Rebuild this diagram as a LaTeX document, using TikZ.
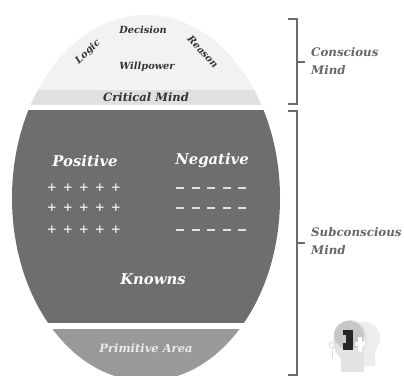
\documentclass[tikz,border=0pt]{standalone}
\usepackage{fontspec}
\setmainfont{DejaVu Serif}
\begin{document}
\begin{tikzpicture}[x=1pt,y=-1pt,
  lbl/.style={inner sep=0pt},
  dk/.style={lbl,text=black!80},
  wh/.style={lbl,text=white},
  side/.style={lbl,text=black!60,align=left,anchor=west,font=\bfseries\itshape\fontsize{11.8}{18}\selectfont},
  brk/.style={draw=black!58,line width=2.2pt},
  sym/.style={lbl,text=white!92!black,font=\bfseries\fontsize{12}{12}\selectfont}]
\useasboundingbox (0,0) rectangle (404,376);
\fill[white] (0,0) rectangle (404,376);
\begin{scope}
\clip (146,198) ellipse [x radius=134, y radius=183];
\fill[black!5] (0,0) rectangle (300,90);
\fill[black!12] (0,90) rectangle (300,105);
\fill[black!57] (0,110) rectangle (300,323);
\fill[black!40] (0,329) rectangle (300,376);
\end{scope}
\node[dk,font=\bfseries\itshape\fontsize{9.8}{11}\selectfont] (dec) at (143,30) {Decision};
\node[dk,font=\bfseries\itshape\fontsize{9.8}{11}\selectfont,rotate=43] (log) at (88,52) {Logic};
\node[dk,font=\bfseries\itshape\fontsize{9.8}{11}\selectfont,rotate=-47] (rea) at (203,52) {Reason};
\node[dk,font=\bfseries\itshape\fontsize{9.8}{11}\selectfont] (wil) at (147,67) {Willpower};
\node[dk,font=\bfseries\itshape\fontsize{11.5}{13}\selectfont] (cri) at (146,97.5) {Critical Mind};
\node[wh,font=\bfseries\itshape\fontsize{14.8}{17}\selectfont] (pos) at (85,161) {Positive};
\node[wh,font=\bfseries\itshape\fontsize{14.8}{17}\selectfont] (neg) at (212,161) {Negative};
\node[wh,font=\bfseries\itshape\fontsize{14.8}{17}\selectfont] (kno) at (153,279) {Knowns};
\node[wh,font=\bfseries\itshape\fontsize{11.5}{13}\selectfont,text=white!92!black] (pri) at (146,348) {Primitive Area};
\foreach \y in {188,208,230}{
  \foreach \x in {52,68,84,100,116}{\node[sym] at (\x,\y) {+};}
  \foreach \x in {180,196,211,227,242}{\fill[white!88!black] (\x-3.8,\y-1.1) rectangle (\x+3.8,\y+1.1);}
}
\coordinate (c1) at (288,19);
\coordinate (c2) at (297,19);
\coordinate (c3) at (297,104);
\coordinate (c4) at (288,104);
\coordinate (c5) at (297,62);
\coordinate (c6) at (305,62);
\draw[brk] (c1) -- (c2) -- (c3) -- (c4) (c5) -- (c6);
\coordinate (d1) at (288,111);
\coordinate (d2) at (297,111);
\coordinate (d3) at (297,375);
\coordinate (d4) at (288,375);
\coordinate (d5) at (297,243);
\coordinate (d6) at (305,243);
\draw[brk] (d1) -- (d2) -- (d3) -- (d4) (d5) -- (d6);
\node[side] (con) at (311,61.5) {Conscious\\Mind};
\node[side] (sub) at (311,241) {Subconscious\\Mind};
% head icon
\fill[black!7] (354,366) -- (354,356) .. controls (345,350) and (348,322) .. (364,322) .. controls (378,322) and (384,338) .. (378,345) -- (375,352) -- (375,366) -- cycle;
\fill[black!11] (341,372) -- (341,358) .. controls (328,348) and (332,322) .. (350,320) .. controls (364,320) and (370,335) .. (366,345) -- (364,352) -- (364,372) -- cycle;
\fill[black!22] (349,335) ellipse [x radius=15, y radius=14];
\fill[black!85] (343,330) rectangle (353,350);
\fill[white!80!black] (343,335) rectangle (346,343);
\fill[white] (358,337) rectangle (362,352);
\fill[white] (355,342) rectangle (365,346);
\draw[black!14,line width=0.8pt] (332,345) circle (3);
\draw[black!14,line width=0.8pt] (332,348) -- (332,358);
\end{tikzpicture}
\end{document}
